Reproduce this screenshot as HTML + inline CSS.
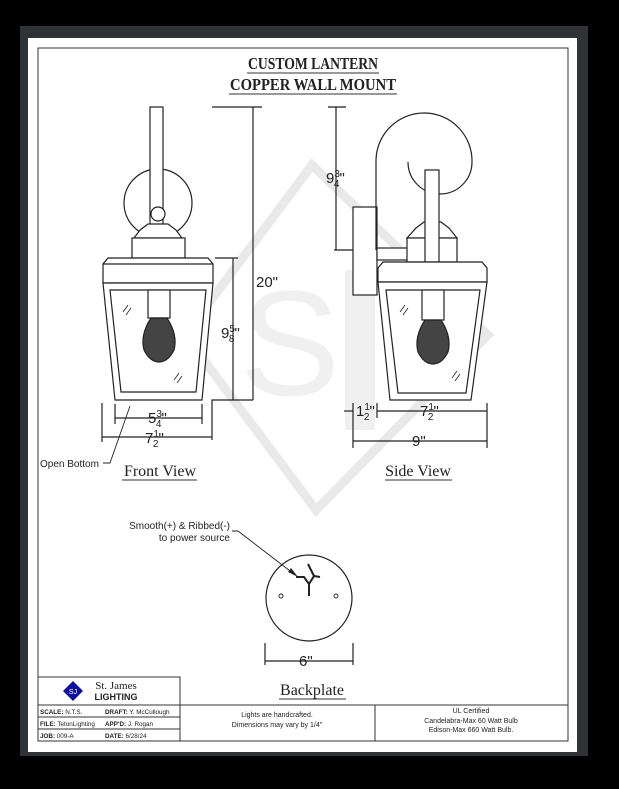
<!DOCTYPE html>
<html><head><style>
html,body{margin:0;padding:0;background:#000;}
svg{display:block}
text{font-family:"Liberation Sans",sans-serif;fill:#222}
.s{font-family:"Liberation Serif",serif}
</style></head><body>
<svg width="619" height="789" viewBox="0 0 619 789" xmlns="http://www.w3.org/2000/svg">
<rect x="0" y="0" width="619" height="789" fill="#000"/>
<rect x="20" y="26" width="568" height="730" fill="#303335"/>
<rect x="28" y="38" width="549" height="714" fill="#fff"/>
<rect x="38" y="48" width="530" height="693" fill="none" stroke="#333" stroke-width="1"/>

<!-- watermark -->
<g fill="none" stroke="#e9e9e9" stroke-width="9">
<polygon points="312,165 488,335 316,510 185,335"/>
</g>
<text x="240" y="395" font-size="150" style="fill:#f0f0f0">S</text>
<rect x="345" y="270" width="30" height="160" fill="#f0f0f0"/>

<!-- Title -->
<text class="s" x="313" y="69" text-anchor="middle" font-weight="bold" font-size="17" textLength="130" lengthAdjust="spacingAndGlyphs">CUSTOM LANTERN</text>
<text class="s" x="313" y="90" text-anchor="middle" font-weight="bold" font-size="17" textLength="166" lengthAdjust="spacingAndGlyphs">COPPER WALL MOUNT</text>
<line x1="247" y1="73" x2="379" y2="73" stroke="#333"/>
<line x1="229" y1="94" x2="397" y2="94" stroke="#333"/>

<g fill="none" stroke="#222" stroke-width="1.2">
<!-- FRONT VIEW -->
<circle cx="158" cy="203" r="34"/>
<rect x="150" y="107" width="13" height="118" fill="#fff"/>
<circle cx="158" cy="214" r="7" fill="#fff"/>
<path d="M140,230 L148,224 L168,224 L176,230 L182,238 L134,238 Z" fill="#fff"/>
<rect x="132" y="238" width="53" height="20" fill="#fff"/>
<path d="M108,258 L208,258 L213,264 L213,283 L103,283 L103,264 Z" fill="#fff"/>
<line x1="103" y1="264" x2="213" y2="264"/>
<path d="M103,283 L213,283 L202,400 L115,400 Z" fill="#fff"/>
<path d="M110,290 L206,290 L196,392 L121,392 Z"/>
<rect x="148" y="290" width="22" height="28" fill="#fff"/>
<path d="M151,318 L167,318 Q178,335 174,350 Q168,362 159,362 Q150,362 144,350 Q140,335 151,318 Z" fill="#444"/>
<path d="M123,312 l5,-7 M126,315 l5,-7 M174,380 l5,-7 M177,383 l5,-7" stroke-width="0.8"/>
<!-- front dims -->
<line x1="212" y1="107" x2="262" y2="107"/>
<line x1="253" y1="107" x2="253" y2="400"/>
<line x1="215" y1="258" x2="238" y2="258"/>
<line x1="233" y1="258" x2="233" y2="400"/>
<path d="M212,440 L212,400 L253,400"/>
<line x1="115" y1="404" x2="115" y2="424"/>
<line x1="202" y1="404" x2="202" y2="424"/>
<line x1="115" y1="418" x2="202" y2="418"/>
<line x1="102" y1="403" x2="102" y2="442"/>
<line x1="102" y1="437" x2="212" y2="437"/>
<path d="M103,463 L110,463 L130,406" stroke-width="0.9"/>

<!-- SIDE VIEW -->
<line x1="328" y1="107" x2="346" y2="107"/>
<line x1="336" y1="107" x2="336" y2="250"/>
<line x1="334" y1="250" x2="354" y2="250"/>
<rect x="353" y="207" width="24" height="88" fill="#fff"/>
<path d="M376,250 L376,160 A48,48 0 0 1 472,162 A32,32 0 0 1 408,162"/>
<rect x="377" y="248" width="32" height="12" fill="#fff"/>
<path d="M416,228 L424,222 L441,222 L449,228 L457,238 L407,238 Z" fill="#fff"/>
<rect x="407" y="238" width="50" height="24" fill="#fff"/>
<rect x="425" y="170" width="14" height="92" fill="#fff"/>
<path d="M383,262 L482,262 L487,268 L487,282 L378,282 L378,268 Z" fill="#fff"/>
<path d="M378,282 L487,282 L471,400 L390,400 Z" fill="#fff"/>
<path d="M386,290 L480,290 L466,393 L398,393 Z"/>
<rect x="422" y="290" width="22" height="30" fill="#fff"/>
<path d="M425,320 L441,320 Q452,337 448,352 Q442,364 433,364 Q424,364 418,352 Q414,337 425,320 Z" fill="#444"/>
<path d="M400,312 l5,-7 M403,315 l5,-7 M452,378 l5,-7 M455,381 l5,-7" stroke-width="0.8"/>
<!-- side dims -->
<line x1="353" y1="403" x2="353" y2="448"/>
<line x1="377" y1="403" x2="377" y2="418"/>
<line x1="487" y1="403" x2="487" y2="448"/>
<line x1="344" y1="411" x2="353" y2="411"/>
<line x1="377" y1="411" x2="487" y2="411"/>
<line x1="353" y1="441" x2="487" y2="441"/>

<!-- BACKPLATE -->
<circle cx="309" cy="598" r="43"/>
<path d="M296,577 L304,577 L309,584 L309,596 M309,584 L314,576 L320,577 M314,576 L308,564" stroke-width="2"/>
<circle cx="281" cy="596" r="2" stroke-width="0.9"/>
<circle cx="336" cy="596" r="2" stroke-width="0.9"/>
<path d="M232,531 L238,531 L294,574" stroke-width="0.9"/>
<line x1="265" y1="643" x2="265" y2="665"/>
<line x1="353" y1="643" x2="353" y2="665"/>
<line x1="265" y1="661" x2="353" y2="661"/>
</g>
<polygon points="298,577 288,572 291,568" fill="#222"/>

<!-- labels -->
<g font-size="15">
<text x="256" y="287">20"</text>
<text x="221" y="338">9<tspan font-size="10" dy="-6">5</tspan><tspan font-size="10" dx="-6" dy="10">8</tspan><tspan dy="-4">"</tspan></text>
<text x="148" y="423">5<tspan font-size="10" dy="-6">3</tspan><tspan font-size="10" dx="-6" dy="10">4</tspan><tspan dy="-4">"</tspan></text>
<text x="145" y="443">7<tspan font-size="10" dy="-6">1</tspan><tspan font-size="10" dx="-6" dy="10">2</tspan><tspan dy="-4">"</tspan></text>
<text x="326" y="183">9<tspan font-size="10" dy="-6">3</tspan><tspan font-size="10" dx="-6" dy="10">4</tspan><tspan dy="-4">"</tspan></text>
<text x="356" y="416">1<tspan font-size="10" dy="-6">1</tspan><tspan font-size="10" dx="-6" dy="10">2</tspan><tspan dy="-4">"</tspan></text>
<text x="420" y="416">7<tspan font-size="10" dy="-6">1</tspan><tspan font-size="10" dx="-6" dy="10">2</tspan><tspan dy="-4">"</tspan></text>
<text x="412" y="446">9"</text>
<text x="299" y="666">6"</text>
</g>
<g font-size="10">
<text x="40" y="467">Open Bottom</text>
<text x="230" y="529" text-anchor="end">Smooth(+) &amp; Ribbed(-)</text>
<text x="230" y="541" text-anchor="end">to power source</text>
</g>
<text class="s" x="160" y="476" text-anchor="middle" font-size="16">Front View</text>
<line x1="122" y1="480" x2="197" y2="480" stroke="#333"/>
<text class="s" x="418" y="476" text-anchor="middle" font-size="16">Side View</text>
<line x1="385" y1="480" x2="452" y2="480" stroke="#333"/>
<text class="s" x="312" y="695" text-anchor="middle" font-size="16">Backplate</text>
<line x1="279" y1="699" x2="346" y2="699" stroke="#333"/>

<!-- title block -->
<g fill="none" stroke="#333" stroke-width="1">
<rect x="38" y="677" width="142" height="64"/>
<line x1="38" y1="705" x2="568" y2="705"/>
<line x1="38" y1="717" x2="180" y2="717"/>
<line x1="38" y1="729" x2="180" y2="729"/>
<line x1="375" y1="705" x2="375" y2="741"/>
</g>
<polygon points="73,681 83,691 73,701 63,691" fill="#1010a0"/>
<text x="73" y="694" font-size="7" text-anchor="middle" style="fill:#fff">SJ</text>
<text class="s" x="116" y="689" font-size="11" text-anchor="middle">St. James</text>
<text x="116" y="700" font-size="9" font-weight="bold" text-anchor="middle" font-family="Liberation Mono">LIGHTING</text>
<g font-size="6.3">
<text x="40" y="714"><tspan font-weight="bold">SCALE:</tspan> N.T.S.</text>
<text x="105" y="714"><tspan font-weight="bold">DRAFT:</tspan> Y. McCullough</text>
<text x="40" y="726"><tspan font-weight="bold">FILE:</tspan> TetonLighting</text>
<text x="105" y="726"><tspan font-weight="bold">APP'D:</tspan> J. Rogan</text>
<text x="40" y="738"><tspan font-weight="bold">JOB:</tspan> 009-A</text>
<text x="105" y="738"><tspan font-weight="bold">DATE:</tspan> 6/28/24</text>
</g>
<g font-size="7" text-anchor="middle">
<text x="277" y="717">Lights are handcrafted.</text>
<text x="277" y="727">Dimensions may vary by 1/4"</text>
<text x="471" y="713">UL Certified</text>
<text x="471" y="723">Candelabra-Max 60 Watt Bulb</text>
<text x="471" y="732">Edison-Max 660 Watt Bulb.</text>
</g>
</svg>
</body></html>
